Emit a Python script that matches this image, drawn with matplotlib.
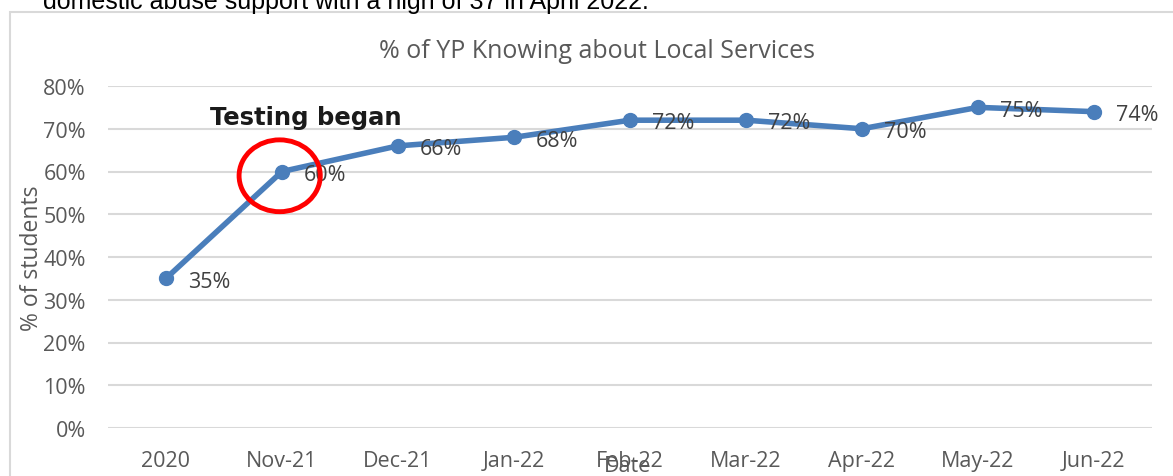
import matplotlib.pyplot as plt
from matplotlib.patches import Ellipse, Rectangle
from matplotlib.ticker import PercentFormatter

# survey results: share of young people who know about local services
dates = ['2020', 'Nov-21', 'Dec-21', 'Jan-22', 'Feb-22', 'Mar-22', 'Apr-22', 'May-22', 'Jun-22']
pct_knowing = [0.35, 0.60, 0.66, 0.68, 0.72, 0.72, 0.70, 0.75, 0.74]
y_ticks = [0.0, 0.1, 0.2, 0.3, 0.4, 0.5, 0.6, 0.7, 0.8]

grey = '#595959'
blue = '#4a7ebb'
font = 'Open Sans'

W, H = 1173, 477
fig = plt.figure(figsize=(W / 100, H / 100), dpi=100)

# chart frame and the report sentence sitting just above it
fig.patches.append(Rectangle((10 / W, -0.1), 1.2, 1 - 13 / H + 0.1, transform=fig.transFigure,
                             fill=False, edgecolor='#d9d9d9', linewidth=1.5))
fig.text(43 / W, 1 - 9 / H, 'domestic abuse support with a high of 37 in April 2022.',
         family='Liberation Sans', fontsize=18, color='black', va='baseline')

ax = fig.add_axes([108 / W, 1 - 429 / H, (1152 - 108) / W, (429 - 87) / H])
x = list(range(len(dates)))
ax.plot(x, pct_knowing, color=blue, linewidth=4, marker='o', markersize=10, zorder=3)

for xi, v in zip(x, pct_knowing):
    ax.annotate(f'{v:.0%}', (xi, v), xytext=(16, -2), textcoords='offset points',
                va='center', ha='left', family=font, fontsize=15.5, color='#404040', zorder=4)

ax.set_xlim(-0.5, len(dates) - 0.5)
ax.set_ylim(0, 0.8)
ax.set_yticks(y_ticks)
ax.yaxis.set_major_formatter(PercentFormatter(1.0, decimals=0))
ax.set_xticks(x)
ax.set_xticklabels(dates)
ax.tick_params(axis='both', length=0, labelsize=15.5, labelcolor=grey)
ax.tick_params(axis='y', pad=16)
ax.tick_params(axis='x', pad=16)
for lab in ax.get_xticklabels() + ax.get_yticklabels():
    lab.set_family(font)
ax.grid(axis='y', color='#d9d9d9', linewidth=1.5)
ax.set_axisbelow(True)
for s in ax.spines.values():
    s.set_visible(False)

fig.text(597 / W, 1 - 52 / H, '% of YP Knowing about Local Services', family=font,
         fontsize=18, color=grey, ha='center', va='center')
ax.set_xlabel('Date', family=font, fontsize=15.5, color=grey)
ax.xaxis.label.set_va('center')
ax.xaxis.set_label_coords((628 - 108) / (1152 - 108), -(467 - 429) / (429 - 87))
ax.set_ylabel('% of students', family=font, fontsize=16.5, color=grey)
ax.yaxis.label.set_va('center')
ax.yaxis.set_label_coords(-(108 - 32) / (1152 - 108), 0.5)

# call-out marking when testing started
ax.add_patch(Ellipse((0.98, 0.59), 0.7, 0.168, fill=False, edgecolor='#ff0000',
                     linewidth=3.5, zorder=5, clip_on=False))
ax.text(0.38, 0.727, 'Testing began', family='DejaVu Sans', fontweight='bold',
        fontsize=17.5, color='#1a1a1a', va='center', ha='left')

fig.savefig('out.png', dpi=100, facecolor='white')
